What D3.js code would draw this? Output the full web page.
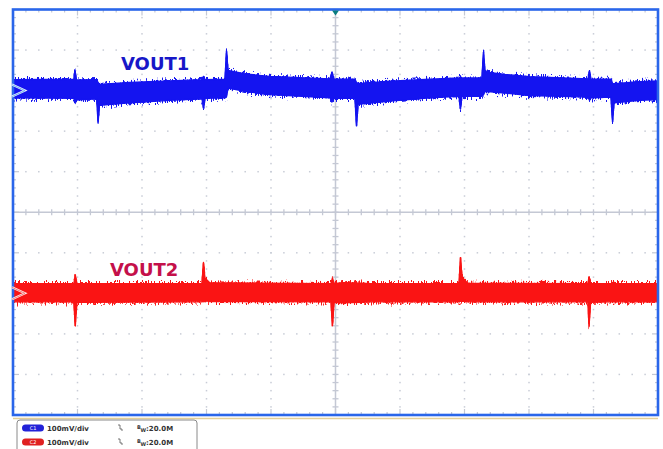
<!DOCTYPE html>
<html>
<head>
<meta charset="utf-8">
<script src="https://cdn.jsdelivr.net/npm/d3@7"></script>
<style>
  html,body{margin:0;padding:0;background:#fff;}
  svg{display:block;}
</style>
</head>
<body>
<svg id="chart" width="663" height="449"></svg>
<script>
// ---- Data (time in divisions, voltage in mV relative to channel ground marker) ----
const channels = ["C1", "C2"];
const labels = ["VOUT1", "VOUT2"];
const voltsPerDiv = ["100mV/div", "100mV/div"];
const bandwidth = ["20.0M", "20.0M"];
const groundOffsetDiv = [3, -2];

// envelope rows: [t, upper mV, lower mV]
const vout1 = [
  [0, 27, -18], [0.945, 28, -19], [0.96, 51, -30], [0.985, 26, -23],
  [1.30, 27, -20], [1.318, 20, -80], [1.34, 15, -36], [1.81, 20, -30],
  [2.43, 24, -24], [2.93, 27, -20], [2.953, 35, -43], [2.977, 27, -19],
  [3.287, 28, -18], [3.31, 98, -15], [3.333, 50, 6], [3.6, 41, -2],
  [3.98, 35, -10], [4.915, 29, -18], [4.946, 46, -28], [4.977, 28, -19],
  [5.302, 28, -19], [5.326, 20, -87], [5.349, 17, -34], [5.845, 23, -26],
  [6.465, 28, -18], [6.915, 31, -14], [6.938, 34, -45], [6.96, 31, -14],
  [7.27, 31, -14], [7.295, 95, -10], [7.318, 46, -2], [7.628, 40, -6],
  [8.016, 34, -12], [8.915, 29, -16], [8.938, 49, -24], [8.961, 28, -18],
  [9.271, 28, -16], [9.295, 18, -77], [9.318, 17, -30], [9.72, 22, -24],
  [10, 24, -22]
];
const vout2 = [
  [0, 24, -21], [0.945, 24, -21], [0.965, 46, -80], [0.99, 24, -22],
  [2.93, 24, -21], [2.953, 76, -18], [2.975, 38, -18], [3.05, 26, -20],
  [4.93, 24, -21], [4.953, 38, -80], [4.977, 24, -22], [5.1, 26, -23],
  [5.4, 25, -22], [5.55, 24, -21], [6.915, 24, -21], [6.938, 88, -18],
  [6.96, 40, -19], [7.05, 25, -21], [8.915, 24, -21], [8.93, 41, -82],
  [8.955, 24, -22], [9.28, 24, -21], [9.31, 28, -20], [9.34, 24, -21],
  [10, 24, -21]
];
const traces = [vout1, vout2];

// ---- Layout ----
const svg = d3.select("#chart");
const x = d3.scaleLinear().domain([0, 10]).range([13, 658]);
const y = d3.scaleLinear().domain([-5, 5]).range([415, 9.5]);
const traceColors = ["#1414f0", "#fa1414"];
const labelColors = ["#1717c8", "#c4104a"];

// filter giving the noisy trace edges
const defs = svg.append("defs");
const f = defs.append("filter").attr("id", "fuzz")
  .attr("x", "-2%").attr("y", "-30%").attr("width", "104%").attr("height", "160%");
f.append("feTurbulence").attr("type", "fractalNoise").attr("baseFrequency", "1.2 0.3")
  .attr("numOctaves", 1).attr("seed", 7).attr("result", "n");
const ct = f.append("feComponentTransfer").attr("in", "n").attr("result", "n2");
ct.append("feFuncR").attr("type", "linear").attr("slope", 0).attr("intercept", 0.5);
ct.append("feFuncG").attr("type", "linear").attr("slope", 2.2).attr("intercept", -0.6);
f.append("feDisplacementMap").attr("in", "SourceGraphic").attr("in2", "n2").attr("scale", 7)
  .attr("xChannelSelector", "R").attr("yChannelSelector", "G");

const plot = svg.append("g");
plot.append("rect").attr("x", x(0)).attr("y", y(5)).attr("width", x(10)-x(0)).attr("height", y(-5)-y(5)).attr("fill", "#fff");

// dotted grid
const minor = d3.range(0, 10.001, 0.2);
const gridCol = "#c8ccd6";
const grid = plot.append("g").attr("fill", gridCol);
d3.range(1, 10).forEach(k => {
  if (k === 5) return;
  minor.forEach(v => grid.append("rect").attr("x", x(k)-0.75).attr("y", y(v-5)-0.75).attr("width", 1.5).attr("height", 1.5));
  minor.forEach(v => grid.append("rect").attr("x", x(v)-0.75).attr("y", y(k-5)-0.75).attr("width", 1.5).attr("height", 1.5));
});
// center axes
const axes = plot.append("g").attr("stroke", "#c4c8d4");
axes.append("line").attr("x1", x(0)).attr("x2", x(10)).attr("y1", y(0)).attr("y2", y(0)).attr("stroke-width", 1.5);
axes.append("line").attr("x1", x(5)).attr("x2", x(5)).attr("y1", y(-5)).attr("y2", y(5)).attr("stroke-width", 1.5);
minor.forEach(v => {
  axes.append("line").attr("x1", x(v)).attr("x2", x(v)).attr("y1", y(0)-3).attr("y2", y(0)+3).attr("stroke-width", 1.3);
  axes.append("line").attr("x1", x(5)-3).attr("x2", x(5)+3).attr("y1", y(v-5)).attr("y2", y(v-5)).attr("stroke-width", 1.3);
});
// border ticks
minor.forEach((v, i) => {
  const len = (i % 5 === 0) ? 6 : 3;
  axes.append("line").attr("x1", x(v)).attr("x2", x(v)).attr("y1", y(5)).attr("y2", y(5)+len).attr("stroke-width", 1.2);
  axes.append("line").attr("x1", x(v)).attr("x2", x(v)).attr("y1", y(-5)).attr("y2", y(-5)-len).attr("stroke-width", 1.2);
  axes.append("line").attr("x1", x(0)).attr("x2", x(0)+len).attr("y1", y(v-5)).attr("y2", y(v-5)).attr("stroke-width", 1.2);
  axes.append("line").attr("x1", x(10)).attr("x2", x(10)-len).attr("y1", y(v-5)).attr("y2", y(v-5)).attr("stroke-width", 1.2);
});

// traces
defs.append("clipPath").attr("id", "clip").append("rect")
  .attr("x", x(0)).attr("y", y(5)).attr("width", x(10)-x(0)).attr("height", y(-5)-y(5));
traces.forEach((data, ci) => {
  const off = groundOffsetDiv[ci];
  const area = d3.area()
    .x(d => x(d[0]))
    .y0(d => y(off + d[2] / 100))
    .y1(d => y(off + d[1] / 100));
  const g = plot.append("g").attr("clip-path", "url(#clip)");
  g.append("path").datum(data)
    .attr("filter", "url(#fuzz)")
    .attr("d", area)
    .attr("fill", traceColors[ci])
    .attr("stroke", traceColors[ci])
    .attr("stroke-width", 1.2)
    .attr("stroke-linejoin", "round");
  g.append("path").datum(data)
    .attr("d", area)
    .attr("fill", traceColors[ci])
    .attr("stroke", traceColors[ci])
    .attr("stroke-width", 1.4)
    .attr("stroke-linejoin", "round");
});

// border
svg.append("line").attr("x1", x(0)).attr("x2", x(10)).attr("y1", y(-5)+3.5).attr("y2", y(-5)+3.5).attr("stroke", "#e3cf98").attr("stroke-width", 1.5);
svg.append("rect").attr("x", x(0)).attr("y", y(5)).attr("width", x(10)-x(0)).attr("height", y(-5)-y(5))
  .attr("fill", "none").attr("stroke", "#2a66ea").attr("stroke-width", 2.6);

// trigger marker
svg.append("path").attr("d", `M${x(5)-3.5},${y(5)+1} L${x(5)+3.5},${y(5)+1} L${x(5)},${y(5)+6} Z`).attr("fill", "#0b7d80");

// ground markers
traces.forEach((d, ci) => {
  const yy = y(groundOffsetDiv[ci]);
  const g = svg.append("g");
  g.append("path").attr("d", `M${x(0)-1},${yy-6} L${x(0)+12},${yy} L${x(0)-1},${yy+6}`)
    .attr("fill", "none").attr("stroke", "#fff").attr("stroke-width", 2.2).attr("opacity", 0.9);
  g.append("path").attr("d", `M${x(0)-1},${yy-6} L${x(0)+12},${yy} L${x(0)-1},${yy+6}`)
    .attr("fill", "none").attr("stroke", ci === 0 ? "#6fb6f0" : "#f08080").attr("stroke-width", 1);
});

// labels
const labelPos = [[121, 70], [110, 276]];
labels.forEach((t, i) => {
  svg.append("text").attr("x", labelPos[i][0]).attr("y", labelPos[i][1])
    .attr("font-family", "DejaVu Sans, Verdana, sans-serif").attr("font-weight", "bold")
    .attr("font-size", 18).attr("fill", labelColors[i]).text(t);
});

// legend box
const leg = svg.append("g");
leg.append("rect").attr("x", 17).attr("y", 420).attr("width", 180).attr("height", 34).attr("rx", 3)
  .attr("fill", "#fff").attr("stroke", "#8a8a8a").attr("stroke-width", 1);
const pillCols = ["#2222d8", "#e02020"];
channels.forEach((c, i) => {
  const cy = 428 + i * 14;
  leg.append("rect").attr("x", 22).attr("y", cy - 3.5).attr("width", 22).attr("height", 7).attr("rx", 3.5).attr("fill", pillCols[i]);
  leg.append("text").attr("x", 33).attr("y", cy + 2).attr("text-anchor", "middle")
    .attr("font-family", "DejaVu Sans, sans-serif").attr("font-size", 5).attr("fill", "#fff").text(c);
  leg.append("text").attr("x", 47).attr("y", cy + 2.5)
    .attr("font-family", "DejaVu Sans, sans-serif").attr("font-size", 7).attr("font-weight", "bold").attr("fill", "#333").text(voltsPerDiv[i]);
  leg.append("path").attr("d", `M118,${cy-3} L120,${cy-3} L120,${cy+1} L122,${cy+1} L122,${cy+3}`)
    .attr("fill", "none").attr("stroke", "#555").attr("stroke-width", 0.8);
  const tb = leg.append("text").attr("x", 137).attr("y", cy + 2.5)
    .attr("font-family", "DejaVu Sans, sans-serif").attr("font-size", 7).attr("font-weight", "bold").attr("fill", "#333");
  tb.append("tspan").attr("font-size", 5).attr("dy", -2).text("B");
  tb.append("tspan").attr("font-size", 5).attr("dy", 3).text("W");
  tb.append("tspan").attr("dy", -1).text(":" + bandwidth[i]);
});
</script>
</body>
</html>
